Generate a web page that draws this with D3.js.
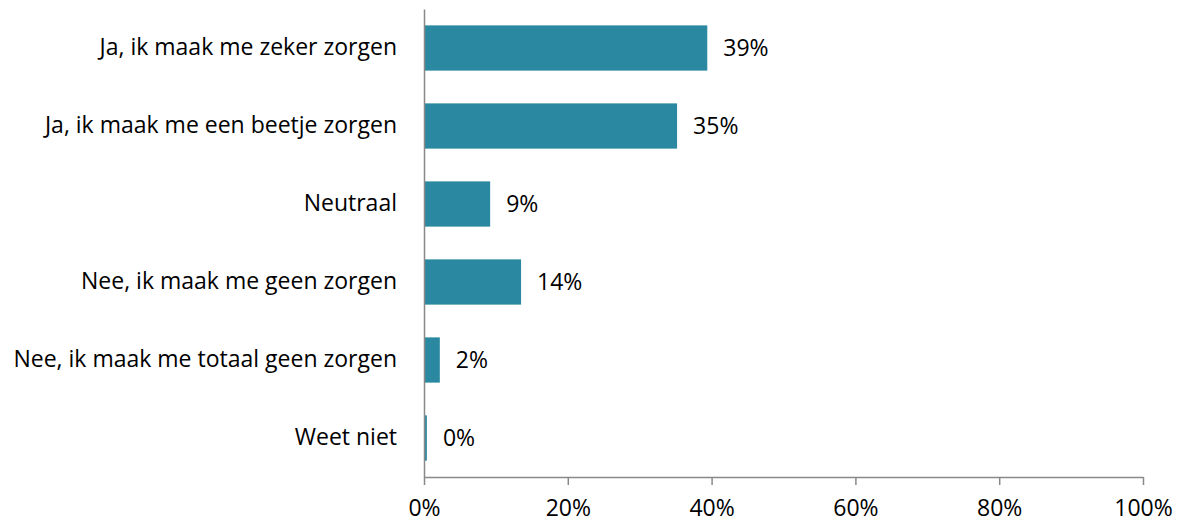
<!DOCTYPE html>
<html><head><meta charset="utf-8">
<script src="https://cdn.jsdelivr.net/npm/d3@7"></script>
<style>body{margin:0;background:#fff;}svg{display:block;}text{font-family:"Open Sans",sans-serif;fill:#000;}</style>
</head><body>
<svg id="c" width="1180" height="522"></svg>
<script>
const categories = ["Ja, ik maak me zeker zorgen","Ja, ik maak me een beetje zorgen","Neutraal","Nee, ik maak me geen zorgen","Nee, ik maak me totaal geen zorgen","Weet niet"];
const values = [39.4, 35.2, 9.2, 13.5, 2.2, 0.4];
const valueLabels = ["39%","35%","9%","14%","2%","0%"];
const xTicks = [0,20,40,60,80,100];

(function(){
const svg = d3.select("#c");
const mLeft = 424, mRight = 1143, mTop = 9, mBottom = 477;
const fontFam = "'Open Sans',sans-serif", fs = "23px";
const x = d3.scaleLinear().domain([0,100]).range([mLeft,mRight]);
const y = d3.scaleBand().domain(categories).range([mTop,mBottom]).paddingInner(0.42).paddingOuter(0.21);
const barColor = "#2a88a0", axisColor = "#898989";

svg.selectAll("rect.bar").data(values).enter().append("rect")
  .attr("class","bar")
  .attr("x", x(0)).attr("y",(d,i)=>y(categories[i]))
  .attr("width", d=>x(d)-x(0)).attr("height", y.bandwidth())
  .attr("fill", barColor);

svg.selectAll("text.val").data(values).enter().append("text")
  .attr("class","val")
  .attr("x", d=>x(d)+16).attr("y",(d,i)=>y(categories[i])+y.bandwidth()/2)
  .attr("dy","0.35em").attr("font-size",fs)
  .text((d,i)=>valueLabels[i]);

const ya = svg.append("g").attr("transform",`translate(${mLeft},0)`)
  .call(d3.axisLeft(y).tickSize(0).tickPadding(27));
ya.select(".domain").attr("stroke",axisColor).attr("stroke-width",1.5);
ya.selectAll("text").attr("font-size",fs).attr("font-family",fontFam).attr("fill","#000");

const xa = svg.append("g").attr("transform",`translate(0,${mBottom})`)
  .call(d3.axisBottom(x).tickValues(xTicks).tickFormat(d=>d+"%").tickSize(8).tickSizeOuter(0).tickPadding(15));
xa.select(".domain").attr("stroke",axisColor).attr("stroke-width",1.5);
xa.selectAll(".tick line").attr("stroke",axisColor).attr("stroke-width",1.5);
xa.selectAll("text").attr("font-size",fs).attr("font-family",fontFam).attr("fill","#000");
})();
</script>
</body></html>
